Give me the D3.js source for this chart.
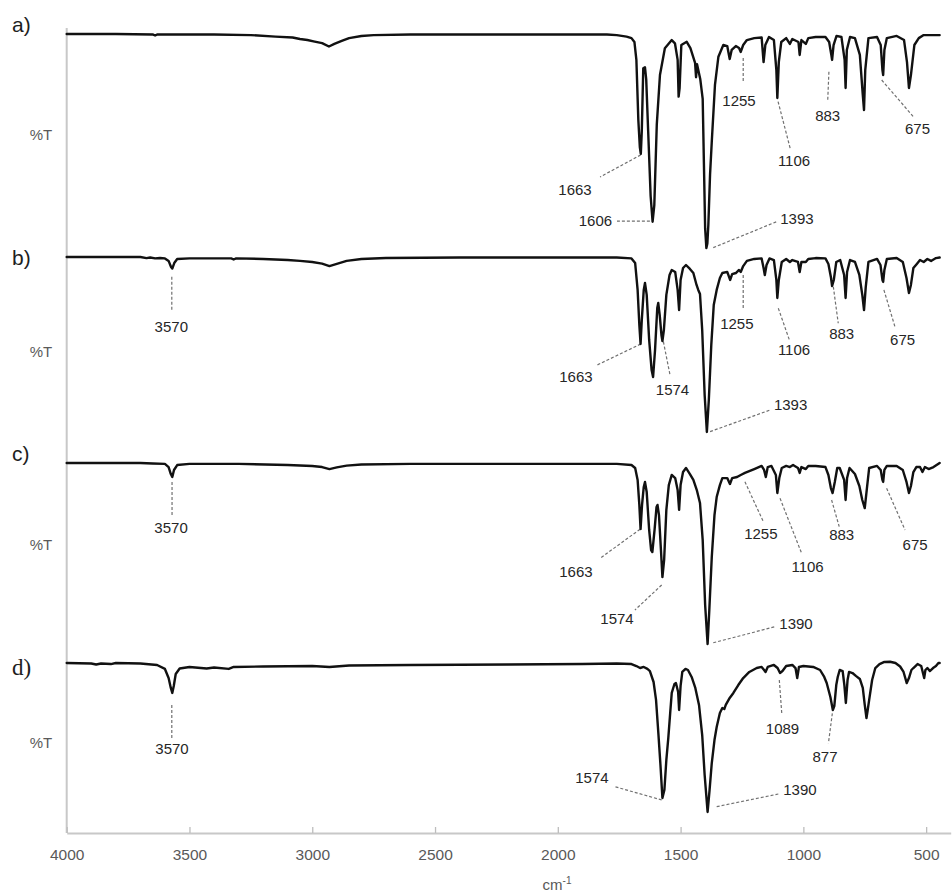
<!DOCTYPE html>
<html><head><meta charset="utf-8">
<script src="https://cdn.jsdelivr.net/npm/d3@7"></script>
<style>body{margin:0;background:#fff}svg{display:block}</style>
</head><body>
<svg id="chart" width="952" height="895"></svg>
<script>
// ---------------- DATA ----------------
const panelNames = ["a)", "b)", "c)", "d)"];
const yLabel = "%T";
const xLabel = "cm";
const xLabelSup = "-1";
const xTicks = [4000, 3500, 3000, 2500, 2000, 1500, 1000, 500];

// spectra: [wavenumber cm-1, %T (relative)]
const specA = [[4000,100],[3800,100],[3650,99.8],[3640,99.3],[3630,99.8],[3400,99.8],[3250,99.5],[3150,98.8],[3080,98.4],[3050,97.7],[3020,97.2],[2990,96.5],[2960,95.8],[2932,94.2],[2910,95.4],[2880,96.8],[2850,98.1],[2800,99.1],[2750,99.5],[2600,99.8],[2400,99.8],[2000,99.8],[1800,99.8],[1760,99.5],[1720,98.8],[1700,98.1],[1688,96.3],[1680,88.0],[1672,60.0],[1666,47.7],[1662,44.5],[1658,55.0],[1652,84.1],[1645,84.6],[1640,79.0],[1632,55.0],[1622,25.0],[1614,13.1],[1607,20.8],[1597,57.9],[1584,81.0],[1564,93.4],[1536,97.2],[1523,95.7],[1512,88.0],[1508,71.0],[1504,75.0],[1497,94.9],[1475,96.4],[1460,93.5],[1441,86.6],[1437,80.0],[1433,86.0],[1420,79.2],[1410,70.0],[1405,40.0],[1400,10.0],[1395,0.9],[1391,3.0],[1387,11.6],[1380,35.0],[1373,50.1],[1360,76.4],[1346,89.5],[1326,94.9],[1310,94.4],[1300,88.4],[1292,92.6],[1275,94.4],[1262,93.5],[1255,91.7],[1245,94.9],[1230,97.2],[1200,98.1],[1170,98.4],[1162,87.0],[1155,94.9],[1140,98.6],[1120,97.2],[1110,83.3],[1106,70.4],[1100,87.0],[1090,96.3],[1070,98.1],[1055,95.4],[1045,97.7],[1020,96.3],[1015,90.3],[1008,97.2],[990,95.4],[980,98.1],[950,98.6],[910,98.6],[895,96.3],[886,90.3],[883,88.0],[877,94.9],[865,99.1],[845,98.6],[832,88.0],[828,75.0],[823,92.6],[810,98.6],[790,98.1],[770,90.3],[758,71.8],[753,64.8],[748,83.3],[735,98.1],[700,98.6],[685,94.9],[678,83.3],[675,81.0],[670,92.6],[660,98.1],[620,99.1],[590,97.2],[578,87.0],[570,75.0],[562,81.0],[548,94.9],[530,98.1],[510,99.5],[480,99.5],[445,99.5]];

const specB = [[4000,100],[3700,100],[3675,99.4],[3660,99.7],[3640,99.2],[3620,99.4],[3600,99.2],[3585,97.8],[3575,94.4],[3570,93.5],[3562,96.6],[3550,98.9],[3500,99.2],[3330,99.2],[3320,98.6],[3310,99.2],[3200,98.9],[3100,98.3],[3050,97.8],[3000,97.2],[2960,96.3],[2930,94.9],[2900,96.1],[2860,97.8],[2800,98.9],[2700,99.4],[2400,99.7],[2000,99.7],[1760,99.7],[1700,99.2],[1685,96.6],[1675,81.5],[1668,61.8],[1663,51.1],[1658,64.6],[1650,81.5],[1645,85.4],[1638,78.7],[1628,53.4],[1618,36.5],[1612,32.6],[1604,47.8],[1595,71.3],[1591,74.2],[1585,67.4],[1578,56.2],[1574,52.8],[1568,59.0],[1558,78.7],[1545,89.9],[1536,92.7],[1522,91.6],[1512,81.5],[1506,70.2],[1500,87.1],[1490,93.8],[1478,95.5],[1462,93.3],[1448,91.0],[1435,84.3],[1428,81.5],[1421,79.2],[1412,59.0],[1402,22.5],[1393,1.7],[1385,19.7],[1375,50.6],[1365,73.0],[1353,81.5],[1340,88.2],[1330,91.0],[1310,91.6],[1298,87.1],[1290,90.4],[1275,91.0],[1262,92.7],[1255,91.6],[1245,94.9],[1230,97.8],[1200,98.9],[1170,99.2],[1162,93.8],[1157,89.9],[1150,95.5],[1138,99.2],[1120,98.3],[1110,87.1],[1106,77.0],[1100,87.1],[1088,97.2],[1070,98.9],[1055,97.2],[1045,98.3],[1022,97.2],[1015,91.6],[1008,97.2],[990,97.2],[980,98.9],[950,99.4],[910,99.2],[898,96.1],[888,88.8],[883,83.7],[876,87.1],[866,97.2],[850,98.3],[834,89.9],[828,77.0],[822,91.6],[810,98.3],[790,97.2],[772,89.9],[760,78.7],[753,70.2],[746,83.1],[735,97.2],[700,98.9],[686,95.5],[678,87.1],[675,86.0],[670,92.7],[660,98.9],[620,99.4],[595,97.2],[580,88.2],[570,79.8],[562,84.3],[552,93.8],[538,96.1],[525,98.3],[510,97.2],[495,98.9],[480,97.8],[460,99.4],[445,99.7]];

const specC = [[4000,100],[3700,100],[3650,99.7],[3600,99.5],[3585,97.8],[3576,94.0],[3570,92.4],[3563,96.2],[3550,98.9],[3500,99.5],[3300,99.5],[3100,98.9],[3000,98.4],[2960,97.8],[2930,96.7],[2900,97.6],[2860,98.6],[2800,99.2],[2600,99.5],[2000,99.5],[1760,99.5],[1700,98.9],[1685,97.3],[1675,90.8],[1668,77.2],[1663,64.1],[1657,77.2],[1650,87.0],[1645,89.7],[1638,84.2],[1628,63.6],[1620,52.7],[1615,51.6],[1606,63.6],[1598,76.1],[1594,77.2],[1588,71.7],[1580,52.7],[1574,38.0],[1567,47.3],[1558,74.5],[1548,88.0],[1536,93.5],[1522,91.8],[1512,85.3],[1506,74.5],[1500,88.0],[1490,95.1],[1478,97.3],[1462,94.0],[1448,90.8],[1434,85.3],[1421,78.3],[1410,58.2],[1400,22.8],[1390,1.6],[1383,20.1],[1373,48.9],[1362,71.7],[1353,81.5],[1340,88.0],[1330,91.8],[1310,91.8],[1299,88.6],[1290,91.8],[1270,92.4],[1255,93.5],[1238,94.6],[1200,96.7],[1170,98.4],[1160,96.2],[1153,92.4],[1145,97.8],[1130,98.4],[1112,93.5],[1106,83.7],[1098,91.8],[1088,97.3],[1070,98.4],[1055,97.8],[1042,98.9],[1022,97.3],[1015,94.6],[1008,97.8],[990,96.7],[980,98.4],[950,98.4],[910,97.8],[898,93.5],[888,86.4],[881,83.7],[872,89.7],[862,97.3],[852,97.3],[834,90.8],[828,79.9],[822,91.8],[812,97.3],[790,94.0],[772,87.5],[760,79.9],[750,75.5],[742,85.3],[732,97.3],[700,98.4],[685,96.2],[678,90.8],[675,89.7],[670,96.2],[660,98.4],[620,98.4],[595,96.2],[580,89.7],[570,83.7],[562,87.5],[552,95.1],[540,97.8],[525,97.8],[515,95.1],[505,97.8],[490,96.7],[470,97.8],[445,100]];

const specD = [[4000,100],[3900,99.7],[3880,99.0],[3860,99.7],[3820,99.3],[3800,100],[3700,99.7],[3632,98.7],[3600,96.1],[3585,90.1],[3576,83.6],[3570,80.3],[3564,84.9],[3556,92.8],[3540,96.4],[3500,97.4],[3430,96.4],[3400,97.0],[3340,96.1],[3320,97.4],[3200,97.7],[3000,98.0],[2930,97.4],[2850,98.4],[2600,98.7],[2200,99.0],[1900,99.3],[1760,99.7],[1700,99.3],[1680,98.0],[1665,96.7],[1650,97.4],[1635,96.1],[1625,94.7],[1610,87.5],[1600,75.7],[1590,52.6],[1582,32.9],[1574,11.2],[1566,16.4],[1558,36.2],[1550,50.7],[1542,67.8],[1536,80.3],[1525,86.2],[1519,86.8],[1510,80.9],[1506,69.1],[1500,84.9],[1493,94.1],[1480,96.1],[1470,95.4],[1455,90.8],[1440,83.6],[1425,72.4],[1412,52.6],[1402,26.3],[1390,2.0],[1382,16.4],[1373,34.2],[1362,49.3],[1353,57.9],[1340,67.1],[1330,70.4],[1322,69.7],[1316,72.4],[1300,77.0],[1285,80.3],[1265,85.5],[1245,90.1],[1220,94.1],[1190,96.7],[1170,97.4],[1160,95.4],[1154,94.1],[1145,97.4],[1120,98.7],[1105,96.7],[1095,93.4],[1085,94.7],[1070,98.0],[1045,98.7],[1032,96.7],[1025,90.1],[1018,97.4],[1000,98.0],[960,97.4],[932,95.4],[915,90.8],[905,86.8],[890,77.6],[880,69.1],[874,71.7],[866,85.5],[860,90.8],[852,95.4],[840,94.7],[833,85.5],[827,73.7],[820,88.8],[814,94.1],[800,93.4],[785,91.4],[770,89.5],[758,83.6],[750,72.4],[743,63.8],[738,69.1],[732,75.7],[720,88.8],[707,96.7],[690,99.3],[670,100.7],[647,100.8],[625,100],[606,97.7],[592,94.1],[579,86.8],[570,90.1],[560,95.4],[552,96.7],[535,99.3],[520,98.0],[512,92.8],[508,90.1],[503,95.4],[495,96.7],[485,94.7],[472,96.7],[460,98.0],[450,100],[445,100]];

const spectra = [specA, specB, specC, specD];

// peak annotation texts per panel
const peakLabelsA = ["1663", "1606", "1393", "1255", "1106", "883", "675"];
const peakLabelsB = ["3570", "1663", "1574", "1393", "1255", "1106", "883", "675"];
const peakLabelsC = ["3570", "1663", "1574", "1390", "1255", "1106", "883", "675"];
const peakLabelsD = ["3570", "1574", "1390", "1089", "877"];
const peakLabels = [peakLabelsA, peakLabelsB, peakLabelsC, peakLabelsD];

// ---------------- LAYOUT ----------------
const W = 952, H = 895;
const plotLeft = 66.7, plotRight = 950.7, axisY = 833, axisTop = 28;
const panels = [
  {top: 34,  bottom: 250, nameY: 32,  tY: 140, serif: false},
  {top: 257, bottom: 435, nameY: 265, tY: 357, serif: false},
  {top: 463, bottom: 647, nameY: 461, tY: 550, serif: false},
  {top: 663, bottom: 815, nameY: 675, tY: 748, serif: true}
];
// leader placement in data coordinates: [from], [to], [label centre], anchor
const leaderLayout = [
  [
    {from:[1662.5,44.0], to:[1828,33.8], at:[1930,28.0], anchor:"middle"},
    {from:[1625,13.4], to:[1759,13.4], at:[1779,13.4], anchor:"end"},
    {from:[1367,1.1], to:[1109,13.1], at:[1026,14.4], anchor:"middle"},
    {from:[1245,88.9], to:[1245,77.9], at:[1262,69.0], anchor:"middle"},
    {from:[1103,68.7], to:[1054,47.2], at:[1038,41.2], anchor:"middle"},
    {from:[896,82.5], to:[901,68.7], at:[901,62.0], anchor:"middle"},
    {from:[681,78.7], to:[552,61.7], at:[535,56.0], anchor:"middle"}
  ],
  [
    {from:[3572,88.9], to:[3572,70.2], at:[3574,60.8], anchor:"middle"},
    {from:[1662.5,51.1], to:[1840,39.3], at:[1926,32.6], anchor:"middle"},
    {from:[1570,52.4], to:[1543,33.7], at:[1533,25.3], anchor:"middle"},
    {from:[1380,1.9], to:[1136,14.0], at:[1052,16.9], anchor:"middle"},
    {from:[1245,89.9], to:[1245,70.2], at:[1271,62.8], anchor:"middle"},
    {from:[1102,71.2], to:[1057,53.4], at:[1038,47.8], anchor:"middle"},
    {from:[878,83.3], to:[858,62.8], at:[844,57.1], anchor:"middle"},
    {from:[672,81.5], to:[627,60.8], at:[596,53.4], anchor:"middle"}
  ],
  [
    {from:[3571,89.7], to:[3571,71.7], at:[3575,64.7], anchor:"middle"},
    {from:[1665,64.0], to:[1828,48.2], at:[1926,40.8], anchor:"middle"},
    {from:[1577,33.7], to:[1686,20.1], at:[1759,15.2], anchor:"middle"},
    {from:[1367,2.3], to:[1116,11.0], at:[1030,12.9], anchor:"middle"},
    {from:[1238,89.8], to:[1163,68.1], at:[1173,61.8], anchor:"middle"},
    {from:[1095,80.8], to:[1007,50.9], at:[983,43.6], anchor:"middle"},
    {from:[885,79.9], to:[854,65.4], at:[844,60.9], anchor:"middle"},
    {from:[661,86.3], to:[586,63.6], at:[545,55.4], anchor:"middle"}
  ],
  [
    {from:[3572,72.4], to:[3572,50.5], at:[3571,43.4], anchor:"middle"},
    {from:[1577,9.9], to:[1767,18.6], at:[1861,24.3], anchor:"middle"},
    {from:[1353,5.5], to:[1102,13.8], at:[1014,16.4], anchor:"middle"},
    {from:[1098,88.8], to:[1088,66.9], at:[1085,57.0], anchor:"middle"},
    {from:[882,66.9], to:[898,47.2], at:[912,38.4], anchor:"middle"}
  ]
];

// ---------------- DRAW ----------------
const svg = d3.select("#chart");
svg.append("rect").attr("width", W).attr("height", H).attr("fill", "#fff");

const x = d3.scaleLinear().domain([4000, 400]).range([plotLeft, plotRight]);

// left frame line
svg.append("line")
  .attr("x1", plotLeft).attr("x2", plotLeft)
  .attr("y1", axisTop).attr("y2", axisY)
  .attr("stroke", "#c8c8c8").attr("stroke-width", 2);

// bottom axis
const xAxis = d3.axisBottom(x).tickValues(xTicks).tickFormat(d3.format("d"))
  .tickSizeInner(-6).tickSizeOuter(0).tickPadding(16);
const gx = svg.append("g").attr("transform", `translate(0,${axisY})`).call(xAxis);
gx.select(".domain").attr("stroke", "#c8c8c8").attr("stroke-width", 2);
gx.selectAll(".tick line").attr("stroke", "#bdbdbd").attr("stroke-width", 1.3);
gx.selectAll(".tick text").attr("fill", "#595959")
  .style("font-family", "'Liberation Sans', Arial, sans-serif").style("font-size", "15.5px");

// x label
const xl = svg.append("text").attr("x", 557).attr("y", 890).attr("text-anchor", "middle")
  .attr("fill", "#595959").style("font-family", "'Liberation Sans', Arial, sans-serif").style("font-size", "15px");
xl.append("tspan").text(xLabel);
xl.append("tspan").attr("dy", -6).style("font-size", "10px").text(xLabelSup);

panels.forEach((p, i) => {
  const y = d3.scaleLinear().domain([0, 100]).range([p.bottom, p.top]);
  const line = d3.line().x(d => x(d[0])).y(d => y(d[1]));

  // leaders
  const g = svg.append("g");
  leaderLayout[i].forEach((L, k) => {
    g.append("line")
      .attr("x1", x(L.from[0])).attr("y1", y(L.from[1]))
      .attr("x2", x(L.to[0])).attr("y2", y(L.to[1]))
      .attr("stroke", "#707070").attr("stroke-width", 1.2).attr("stroke-dasharray", "3,2");
    g.append("text")
      .attr("x", x(L.at[0])).attr("y", y(L.at[1])).attr("dy", "0.36em")
      .attr("text-anchor", L.anchor)
      .attr("fill", "#262626")
      .style("font-family", "'Liberation Sans', Arial, sans-serif").style("font-size", "15px")
      .text(peakLabels[i][k]);
  });

  // spectrum
  svg.append("path").datum(spectra[i])
    .attr("d", line).attr("fill", "none")
    .attr("stroke", "#111").attr("stroke-width", 2.4)
    .attr("stroke-linejoin", "round").attr("stroke-linecap", "round");

  // panel name
  svg.append("text").attr("x", 12).attr("y", p.nameY)
    .attr("fill", "#1e1e1e")
    .style("font-family", p.serif ? "'Liberation Serif', 'Times New Roman', serif" : "'Liberation Sans', Arial, sans-serif")
    .style("font-size", p.serif ? "23px" : "21px")
    .text(panelNames[i]);

  // %T label
  svg.append("text").attr("x", 41).attr("y", p.tY).attr("text-anchor", "middle")
    .attr("fill", "#5a5a5a")
    .style("font-family", "'Liberation Sans', Arial, sans-serif").style("font-size", "15px")
    .text(yLabel);
});
</script>
</body></html>
